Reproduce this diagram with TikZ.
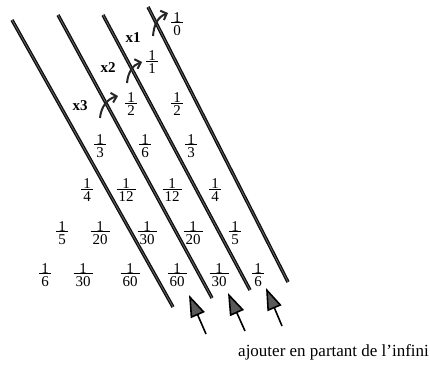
\documentclass[tikz,border=0pt]{standalone}
\usepackage{fontspec}
\setmainfont{Liberation Serif}
\usetikzlibrary{arrows.meta}
\newcommand\lfr[1]{{\renewcommand\arraystretch{0}\setlength\arrayrulewidth{0.8pt}\begin{tabular}{@{\hspace{2pt}}c@{\hspace{2pt}}}1\\\hline\rule{0pt}{12pt}#1\end{tabular}}}
\begin{document}
\begin{tikzpicture}[x=1pt,y=-1pt,
  frac/.style={inner sep=0pt,font=\fontsize{15}{18}\selectfont},
  xlab/.style={inner sep=0pt,font=\fontsize{15}{18}\selectfont\bfseries},
  diag/.style={line width=1.3pt,draw=black!95,double=black!60,double distance=0.8pt},
  uparrow/.style={line width=1.6pt,draw=black,-{Triangle[length=22pt,width=15pt,fill=black!65]}},
  crv/.style={line width=2pt,draw=black!85,-{Straight Barb[length=5pt,width=10pt]}}]
\useasboundingbox (0,0) rectangle (430,366);
% diagonal lines
\coordinate (l1a) at (12,20);  \coordinate (l1b) at (173,307);
\coordinate (l2a) at (58,15);  \coordinate (l2b) at (212,298);
\coordinate (l3a) at (103,15); \coordinate (l3b) at (250,290);
\coordinate (l4a) at (148,7);  \coordinate (l4b) at (288,282);
\draw[diag] (l1a) -- (l1b);
\draw[diag] (l2a) -- (l2b);
\draw[diag] (l3a) -- (l3b);
\draw[diag] (l4a) -- (l4b);
% fractions
\node[frac] (f00) at (177,24) {\lfr{0}};
\node[frac] (f10) at (152,62) {\lfr{1}};
\node[frac] (f20) at (131,104) {\lfr{2}};
\node[frac] (f21) at (177,104) {\lfr{2}};
\node[frac] (f30) at (100,146) {\lfr{3}};
\node[frac] (f31) at (145,146) {\lfr{6}};
\node[frac] (f32) at (191,146) {\lfr{3}};
\node[frac] (f40) at (87,190) {\lfr{4}};
\node[frac] (f41) at (126,190) {\lfr{12}};
\node[frac] (f42) at (172,190) {\lfr{12}};
\node[frac] (f43) at (215,190) {\lfr{4}};
\node[frac] (f50) at (62,233) {\lfr{5}};
\node[frac] (f51) at (100,233) {\lfr{20}};
\node[frac] (f52) at (147,233) {\lfr{30}};
\node[frac] (f53) at (193,233) {\lfr{20}};
\node[frac] (f54) at (235,233) {\lfr{5}};
\node[frac] (f60) at (45,275) {\lfr{6}};
\node[frac] (f61) at (83,275) {\lfr{30}};
\node[frac] (f62) at (130,275) {\lfr{60}};
\node[frac] (f63) at (177,275) {\lfr{60}};
\node[frac] (f64) at (219,275) {\lfr{30}};
\node[frac] (f65) at (258,275) {\lfr{6}};
% x labels and curved arrows
\node[xlab] (x1) at (133,38) {x1};
\node[xlab] (x2) at (108,68) {x2};
\node[xlab] (x3) at (80,106) {x3};
\coordinate (c1a) at (153,36); \coordinate (c1b) at (168,13);
\coordinate (c2a) at (127,83); \coordinate (c2b) at (142,62);
\coordinate (c3a) at (100,118); \coordinate (c3b) at (118,96);
\draw[crv] (c1a) .. controls (154,24) and (158,17) .. (c1b);
\draw[crv] (c2a) .. controls (128,72) and (133,65) .. (c2b);
\draw[crv] (c3a) .. controls (101,107) and (107,99) .. (c3b);
% bottom arrows
\coordinate (a1t) at (206,334); \coordinate (a1h) at (189,295);
\coordinate (a2t) at (245,331); \coordinate (a2h) at (228,293);
\coordinate (a3t) at (282,326); \coordinate (a3h) at (266,288);
\draw[uparrow] (a1t) -- (a1h);
\draw[uparrow] (a2t) -- (a2h);
\draw[uparrow] (a3t) -- (a3h);
% caption
\node[anchor=base west,inner sep=0pt,font=\fontsize{17}{20}\selectfont] (cap) at (238,356) {ajouter en partant de l'infini};
\end{tikzpicture}
\end{document}
